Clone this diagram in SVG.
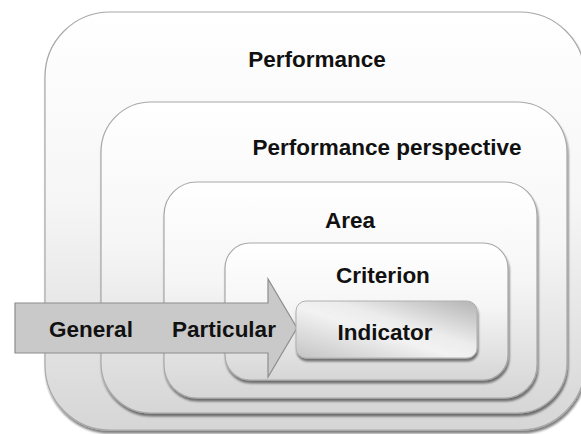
<svg xmlns="http://www.w3.org/2000/svg" width="581" height="434" viewBox="0 0 581 434">
<defs>
<linearGradient id="boxg" x1="0" y1="0" x2="0" y2="1">
<stop offset="0" stop-color="#ffffff"/>
<stop offset="0.45" stop-color="#f6f6f6"/>
<stop offset="1" stop-color="#d6d6d6"/>
</linearGradient>
<linearGradient id="indg" x1="0" y1="1" x2="1" y2="0">
<stop offset="0" stop-color="#c4c4c4"/>
<stop offset="0.45" stop-color="#f2f2f2"/>
<stop offset="0.6" stop-color="#ececec"/>
<stop offset="1" stop-color="#b4b4b4"/>
</linearGradient>
<filter id="sh" x="-10%" y="-10%" width="120%" height="120%">
<feGaussianBlur in="SourceAlpha" stdDeviation="1.2"/>
<feOffset dx="1" dy="2.5" result="b"/>
<feComponentTransfer><feFuncA type="linear" slope="0.5"/></feComponentTransfer>
<feMerge><feMergeNode/><feMergeNode in="SourceGraphic"/></feMerge>
</filter>
</defs>
<style>
.box{fill:url(#boxg);stroke:#a8a8a8;stroke-width:1.2;filter:url(#sh)}
.ind{fill:url(#indg);stroke:#b0b0b0;stroke-width:1;filter:url(#sh)}
.arrow{fill:#c9c9c9;stroke:#8e8e8e;stroke-width:1.2}
text{font-family:"Liberation Sans",Arial,sans-serif;font-weight:bold;font-size:22.5px;fill:#111;text-anchor:middle}
</style>
<rect width="581" height="434" fill="#ffffff"/>
<g id="performance">
<rect class="box" x="45" y="12" width="540" height="418" rx="65" ry="65"/>
<text x="317" y="67">Performance</text>
</g>
<g id="performance-perspective">
<rect class="box" x="101" y="102" width="466" height="311" rx="50" ry="50"/>
<text x="387" y="155">Performance perspective</text>
</g>
<g id="area">
<rect class="box" x="164" y="182" width="373" height="216" rx="33" ry="33"/>
<text x="350" y="228">Area</text>
</g>
<g id="criterion">
<rect class="box" x="225" y="243" width="283" height="137" rx="25" ry="25"/>
<text x="383" y="283">Criterion</text>
</g>
<g id="connectors">
<g id="arrow">
<polygon class="arrow" points="15,303 268,303 268,279 297,328 268,377 268,353 15,353"/>
<text x="91" y="337">General</text>
<text x="224" y="337">Particular</text>
</g>
</g>
<g id="indicator">
<rect class="ind" x="296" y="301" width="181" height="57" rx="10" ry="10"/>
<text x="385" y="340">Indicator</text>
</g>
</svg>
